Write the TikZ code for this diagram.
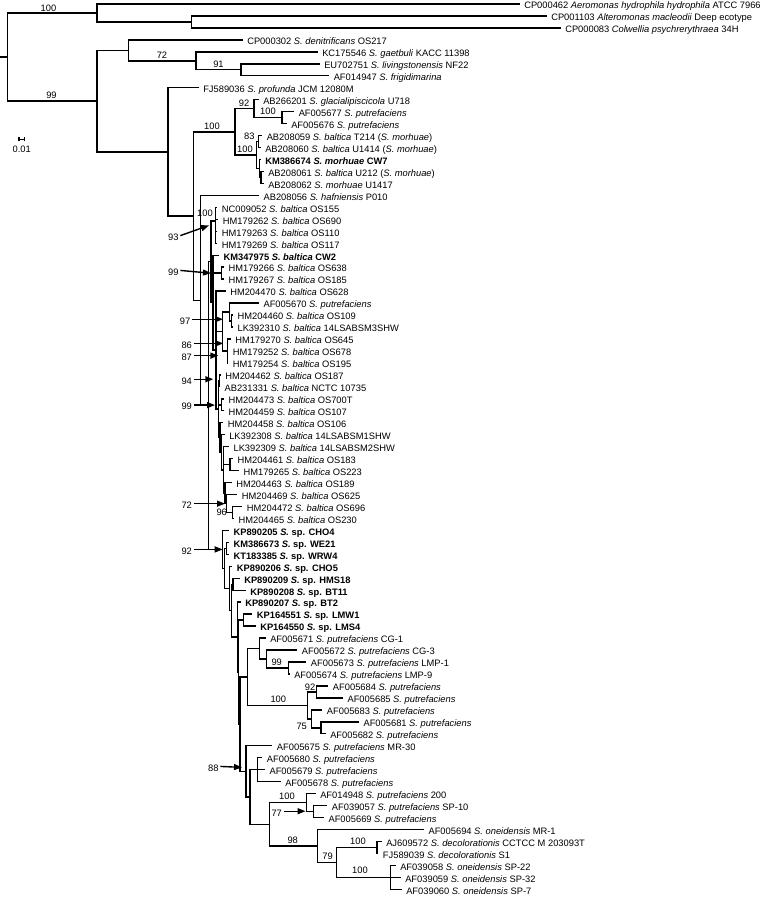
\documentclass[tikz,border=0pt]{standalone}
\usepackage{fontspec}
\setmainfont{Liberation Sans}
\usetikzlibrary{arrows.meta}
\newcommand\tkids[2]{\foreach \c in {#2}{\draw[br] (#1) |- (\c);}}
\newcommand\tleaves[2]{\foreach \c in {#2}{\draw[br] (#1) |- (\c.west);}}
\begin{document}
\begin{tikzpicture}[x=0.75pt,y=-0.7465pt,
  br/.style={line width=1.05pt},
  lf/.style={anchor=west,inner xsep=3.3pt,inner ysep=0pt,text height=0.72em,text depth=0pt,font=\fontsize{7}{8}\selectfont},
  bs/.style={inner sep=0pt,text height=0.72em,text depth=0pt,font=\fontsize{7}{8}\selectfont},
  al/.style={inner xsep=1.2pt,inner ysep=0pt,text height=0.72em,text depth=0pt,font=\fontsize{7}{8}\selectfont},
  arr/.style={line width=1.05pt,-{Triangle[length=6pt,width=4.5pt]}},
]
\useasboundingbox (0,0) rectangle (760,901.2);
% leaves
\node[lf] (L0) at (519.6,4.0) {CP000462 \textit{Aeromonas hydrophila hydrophila} ATCC 7966};
\node[lf] (L1) at (546.6,16.0) {CP001103 \textit{Alteromonas macleodii} Deep ecotype};
\node[lf] (L2) at (560.6,28.0) {CP000083 \textit{Colwellia psychrerythraea} 34H};
\node[lf] (L3) at (242.6,40.1) {CP000302 \textit{S. denitrificans} OS217};
\node[lf] (L4) at (317.6,52.1) {KC175546 \textit{S. gaetbuli} KACC 11398};
\node[lf] (L5) at (319.6,64.1) {EU702751 \textit{S. livingstonensis} NF22};
\node[lf] (L6) at (329.1,76.1) {AF014947 \textit{S. frigidimarina}};
\node[lf] (L7) at (198.6,88.1) {FJ589036 \textit{S. profunda} JCM 12080M};
\node[lf] (L8) at (258.6,100.2) {AB266201 \textit{S. glacialipiscicola} U718};
\node[lf] (L9) at (294.1,112.2) {AF005677 \textit{S. putrefaciens}};
\node[lf] (L10) at (286.6,124.2) {AF005676 \textit{S. putrefaciens}};
\node[lf] (L11) at (262.1,136.2) {AB208059 \textit{S. baltica} T214 (\textit{S. morhuae})};
\node[lf] (L12) at (260.6,148.2) {AB208060 \textit{S. baltica} U1414 (\textit{S. morhuae})};
\node[lf] (L13) at (260.6,160.3) {\textbf{KM386674 \textit{S. morhuae} CW7}};
\node[lf] (L14) at (263.6,172.3) {AB208061 \textit{S. baltica} U212 (\textit{S. morhuae})};
\node[lf] (L15) at (263.6,184.3) {AB208062 \textit{S. morhuae} U1417};
\node[lf] (L16) at (258.9,196.3) {AB208056 \textit{S. hafniensis} P010};
\node[lf] (L17) at (217.3,208.3) {NC009052 \textit{S. baltica} OS155};
\node[lf] (L18) at (218.3,220.4) {HM179262 \textit{S. baltica} OS690};
\node[lf] (L19) at (217.3,232.4) {HM179263 \textit{S. baltica} OS110};
\node[lf] (L20) at (217.3,244.4) {HM179269 \textit{S. baltica} OS117};
\node[lf] (L21) at (218.9,256.4) {\textbf{KM347975 \textit{S. baltica} CW2}};
\node[lf] (L22) at (223.9,268.4) {HM179266 \textit{S. baltica} OS638};
\node[lf] (L23) at (223.9,280.5) {HM179267 \textit{S. baltica} OS185};
\node[lf] (L24) at (225.6,292.5) {HM204470 \textit{S. baltica} OS628};
\node[lf] (L25) at (258.9,304.5) {AF005670 \textit{S. putrefaciens}};
\node[lf] (L26) at (232.9,316.5) {HM204460 \textit{S. baltica} OS109};
\node[lf] (L27) at (232.9,328.5) {LK392310 \textit{S. baltica} 14LSABSM3SHW};
\node[lf] (L28) at (230.6,340.6) {HM179270 \textit{S. baltica} OS645};
\node[lf] (L29) at (228.3,352.6) {HM179252 \textit{S. baltica} OS678};
\node[lf] (L30) at (228.3,364.6) {HM179254 \textit{S. baltica} OS195};
\node[lf] (L31) at (220.6,376.6) {HM204462 \textit{S. baltica} OS187};
\node[lf] (L32) at (219.9,388.6) {AB231331 \textit{S. baltica} NCTC 10735};
\node[lf] (L33) at (223.9,400.7) {HM204473 \textit{S. baltica} OS700T};
\node[lf] (L34) at (223.9,412.7) {HM204459 \textit{S. baltica} OS107};
\node[lf] (L35) at (223.3,424.7) {HM204458 \textit{S. baltica} OS106};
\node[lf] (L36) at (224.6,436.7) {LK392308 \textit{S. baltica} 14LSABSM1SHW};
\node[lf] (L37) at (228.9,448.7) {LK392309 \textit{S. baltica} 14LSABSM2SHW};
\node[lf] (L38) at (232.9,460.8) {HM204461 \textit{S. baltica} OS183};
\node[lf] (L39) at (238.9,472.8) {HM179265 \textit{S. baltica} OS223};
\node[lf] (L40) at (231.6,484.8) {HM204463 \textit{S. baltica} OS189};
\node[lf] (L41) at (237.3,496.8) {HM204469 \textit{S. baltica} OS625};
\node[lf] (L42) at (242.3,508.8) {HM204472 \textit{S. baltica} OS696};
\node[lf] (L43) at (233.9,520.9) {HM204465 \textit{S. baltica} OS230};
\node[lf] (L44) at (228.9,532.9) {\textbf{KP890205 \textit{S.} sp. CHO4}};
\node[lf] (L45) at (228.9,544.9) {\textbf{KM386673 \textit{S.} sp. WE21}};
\node[lf] (L46) at (228.9,556.9) {\textbf{KT183385 \textit{S.} sp. WRW4}};
\node[lf] (L47) at (232.3,568.9) {\textbf{KP890206 \textit{S.} sp. CHO5}};
\node[lf] (L48) at (239.6,581.0) {\textbf{KP890209 \textit{S.} sp. HMS18}};
\node[lf] (L49) at (245.6,593.0) {\textbf{KP890208 \textit{S.} sp. BT11}};
\node[lf] (L50) at (240.6,605.0) {\textbf{KP890207 \textit{S.} sp. BT2}};
\node[lf] (L51) at (252.3,617.0) {\textbf{KP164551 \textit{S.} sp. LMW1}};
\node[lf] (L52) at (255.6,629.0) {\textbf{KP164550 \textit{S.} sp. LMS4}};
\node[lf] (L53) at (265.6,641.1) {AF005671 \textit{S. putrefaciens} CG-1};
\node[lf] (L54) at (297.3,653.1) {AF005672 \textit{S. putrefaciens} CG-3};
\node[lf] (L55) at (306.3,665.1) {AF005673 \textit{S. putrefaciens} LMP-1};
\node[lf] (L56) at (289.6,677.1) {AF005674 \textit{S. putrefaciens} LMP-9};
\node[lf] (L57) at (328.3,689.1) {AF005684 \textit{S. putrefaciens}};
\node[lf] (L58) at (342.9,701.2) {AF005685 \textit{S. putrefaciens}};
\node[lf] (L59) at (322.3,713.2) {AF005683 \textit{S. putrefaciens}};
\node[lf] (L60) at (358.9,725.2) {AF005681 \textit{S. putrefaciens}};
\node[lf] (L61) at (325.6,737.2) {AF005682 \textit{S. putrefaciens}};
\node[lf] (L62) at (272.3,749.2) {AF005675 \textit{S. putrefaciens} MR-30};
\node[lf] (L63) at (262.3,761.3) {AF005680 \textit{S. putrefaciens}};
\node[lf] (L64) at (264.9,773.3) {AF005679 \textit{S. putrefaciens}};
\node[lf] (L65) at (280.6,785.3) {AF005678 \textit{S. putrefaciens}};
\node[lf] (L66) at (315.6,797.3) {AF014948 \textit{S. putrefaciens} 200};
\node[lf] (L67) at (327.3,809.3) {AF039057 \textit{S. putrefaciens} SP-10};
\node[lf] (L68) at (323.9,821.4) {AF005669 \textit{S. putrefaciens}};
\node[lf] (L69) at (423.9,833.4) {AF005694 \textit{S. oneidensis} MR-1};
\node[lf] (L70) at (381.6,845.4) {AJ609572 \textit{S. decolorationis} CCTCC M 203093T};
\node[lf] (L71) at (378.3,857.4) {FJ589039 \textit{S. decolorationis} S1};
\node[lf] (L72) at (395.6,869.4) {AF039058 \textit{S. oneidensis} SP-22};
\node[lf] (L73) at (400.6,881.5) {AF039059 \textit{S. oneidensis} SP-32};
\node[lf] (L74) at (401.6,893.5) {AF039060 \textit{S. oneidensis} SP-7};
% internal nodes
\coordinate (r0) at (0,57.3);
\coordinate (root) at (7.3,57.3);
\coordinate (O1) at (97,13.0);
\coordinate (O2) at (191.5,22.0);
\coordinate (S) at (97,101.6);
\coordinate (G1) at (128.5,50.6);
\coordinate (G2) at (196,61.1);
\coordinate (G3) at (241,70.1);
\coordinate (A) at (168,152.65);
\coordinate (B) at (193.3,217.2);
\coordinate (C) at (235,132.5);
\coordinate (C1) at (254,109.2);
\coordinate (C1b) at (282,118.2);
\coordinate (C2) at (256.7,155.75);
\coordinate (D1) at (258.5,142.2);
\coordinate (D2) at (259.5,169.3);
\coordinate (D3) at (261,178.3);
\coordinate (H) at (200.7,301.9);
\coordinate (I) at (208.3,407.5);
\coordinate (K1) at (211,263);
\coordinate (N100) at (215.7,222);
\coordinate (K2) at (213,304.1);
\coordinate (K22) at (221.7,274.45);
\coordinate (K3) at (216,351.8);
\coordinate (K4) at (222.5,333.05);
\coordinate (N97a) at (229.5,313.5);
\coordinate (N97b) at (231.5,322.5);
\coordinate (N86) at (227.3,352.6);
\coordinate (K5) at (218.3,411.05);
\coordinate (N94) at (219.3,382.6);
\coordinate (N99b) at (221.7,406.7);
\coordinate (K6) at (220,439.5);
\coordinate (K7) at (221.7,454.35);
\coordinate (K8) at (223.5,472);
\coordinate (N61) at (230,466.8);
\coordinate (K9) at (225,495.3);
\coordinate (N72) at (226.5,505.8);
\coordinate (N96) at (232.3,514.85);
\coordinate (Y7) at (222.7,552.0);
\coordinate (Y6) at (224.5,571.1);
\coordinate (K3b) at (226.7,550.9);
\coordinate (Y5) at (229.3,591.25);
\coordinate (Y4) at (231.7,613.6);
\coordinate (K2b) at (233,587.0);
\coordinate (Y3) at (237.3,640.15);
\coordinate (Y2) at (238.5,675.3);
\coordinate (KL) at (243.3,623.0);
\coordinate (Y1) at (240,727.55);
\coordinate (R) at (247.3,680.15);
\coordinate (P1) at (259.3,651.6);
\coordinate (P2) at (266.7,662.1);
\coordinate (P3) at (288.3,671.1);
\coordinate (Q) at (307.7,708.7);
\coordinate (Q1) at (316.7,695.15);
\coordinate (Q2) at (311.7,722.2);
\coordinate (Q3) at (321,731.2);
\coordinate (X) at (246,774.95);
\coordinate (X2) at (250,800.7);
\coordinate (T) at (257.3,773.3);
\coordinate (U) at (269.3,828.1);
\coordinate (U1) at (306.7,806.3);
\coordinate (U1b) at (313.3,815.35);
\coordinate (U2) at (317.3,849.9);
\coordinate (V) at (336.7,866.45);
\coordinate (V1) at (377,851.4);
\coordinate (V2) at (390.7,881.5);
% branches
\draw[br] (r0) -- (root);
\tkids{root}{O1,S}
\tleaves{O1}{L0} \tkids{O1}{O2}
\tleaves{O2}{L1,L2}
\tkids{S}{G1,A}
\tleaves{G1}{L3} \tkids{G1}{G2}
\tleaves{G2}{L4} \tkids{G2}{G3}
\tleaves{G3}{L5,L6}
\tleaves{A}{L7} \tkids{A}{B}
\tkids{B}{C,H}
\tkids{C}{C1,C2}
\tleaves{C1}{L8} \tkids{C1}{C1b}
\tleaves{C1b}{L9,L10}
\tkids{C2}{D1,D2}
\tleaves{D1}{L11,L12}
\tleaves{D2}{L13} \tkids{D2}{D3}
\tleaves{D3}{L14,L15}
\tleaves{H}{L16} \tkids{H}{I}
\tkids{I}{K1,Y7}
\tkids{K1}{N100,K2}
\tleaves{N100}{L17,L18,L19,L20}
\tleaves{K2}{L21} \tkids{K2}{K22,K3}
\tleaves{K22}{L22,L23}
\tleaves{K3}{L24} \tkids{K3}{K4,K5}
\tkids{K4}{N97a,N86}
\tleaves{N97a}{L25} \tkids{N97a}{N97b}
\tleaves{N97b}{L26,L27}
\tleaves{N86}{L28,L29,L30}
\tkids{K5}{N94,N99b,K6}
\tleaves{N94}{L31,L32}
\tleaves{N99b}{L33,L34}
\tleaves{K6}{L35} \tkids{K6}{K7}
\tleaves{K7}{L36} \tkids{K7}{K8}
\tleaves{K8}{L37} \tkids{K8}{N61,K9}
\tleaves{N61}{L38,L39}
\tleaves{K9}{L40} \tkids{K9}{N72}
\tleaves{N72}{L41} \tkids{N72}{N96}
\tleaves{N96}{L42,L43}
\tleaves{Y7}{L44} \tkids{Y7}{Y6}
\tkids{Y6}{K3b,Y5}
\tleaves{K3b}{L45,L46}
\tleaves{Y5}{L47} \tkids{Y5}{Y4}
\tkids{Y4}{K2b,Y3}
\tleaves{K2b}{L48,L49}
\tleaves{Y3}{L50} \tkids{Y3}{Y2}
\tkids{Y2}{KL,Y1}
\tleaves{KL}{L51,L52}
\tkids{Y1}{R,X}
\tkids{R}{P1,Q}
\tleaves{P1}{L53} \tkids{P1}{P2}
\tleaves{P2}{L54} \tkids{P2}{P3}
\tleaves{P3}{L55,L56}
\tkids{Q}{Q1,Q2}
\tleaves{Q1}{L57,L58}
\tleaves{Q2}{L59} \tkids{Q2}{Q3}
\tleaves{Q3}{L60,L61}
\tleaves{X}{L62} \tkids{X}{X2}
\tkids{X2}{T,U}
\tleaves{T}{L63,L64,L65}
\tkids{U}{U1,U2}
\tleaves{U1}{L66} \tkids{U1}{U1b}
\tleaves{U1b}{L67,L68}
\tleaves{U2}{L69} \tkids{U2}{V}
\tkids{V}{V1,V2}
\tleaves{V1}{L70,L71}
\tleaves{V2}{L72,L73,L74}
% bootstrap values
\node[bs] (b1) at (48.5,6.5) {100};
\node[bs] (b2) at (51.5,94.1) {99};
\node[bs] (b3) at (162,53.6) {72};
\node[bs] (b4) at (218.5,62.6) {91};
\node[bs] (b5) at (212,125) {100};
\node[bs] (b6) at (244,101.7) {92};
\node[bs] (b7) at (268,110.7) {100};
\node[bs] (b8) at (245,148.3) {100};
\node[bs] (b9) at (249.3,135) {83};
\node[bs] (b10) at (205,212.3) {100};
\node[bs] (b11) at (221.7,513.3) {96};
\node[bs] (b12) at (276.7,663.6) {99};
\node[bs] (b13) at (278.3,701.2) {100};
\node[bs] (b14) at (310,688.5) {92};
\node[bs] (b15) at (301.7,728.3) {75};
\node[bs] (b16) at (287,798.8) {100};
\node[bs] (b17) at (292.7,842.4) {98};
\node[bs] (b18) at (327.5,859) {79};
\node[bs] (b19) at (358,843.9) {100};
\node[bs] (b20) at (360,873) {100};
% arrowed bootstrap values
\node[al] (a93) at (173.3,236.7) {93};
\node[al] (a99a) at (173.3,271.7) {99};
\node[al] (a97) at (185,320.7) {97};
\node[al] (a86) at (186.7,345) {86};
\node[al] (a87) at (186.7,357.3) {87};
\node[al] (a94) at (186.7,381) {94};
\node[al] (a99b) at (186.7,407) {99};
\node[al] (a72) at (186.7,506) {72};
\node[al] (a92) at (186.7,552) {92};
\node[al] (a88) at (213.3,770) {88};
\node[al] (a77) at (276.7,815) {77};
\coordinate (t93) at (209,226.5);
\coordinate (t99a) at (211,274.5);
\coordinate (t97) at (223,320.7);
\coordinate (t86) at (223.3,345);
\coordinate (t87) at (218.3,357.3);
\coordinate (t94) at (213.3,381);
\coordinate (t99b) at (215,407);
\coordinate (t72) at (225,506);
\coordinate (t92) at (222.7,552);
\coordinate (t88) at (242,771);
\coordinate (t77) at (305.5,815);
\draw[arr] (a93.east) -- (t93);
\draw[arr] (a99a.east) -- (t99a);
\draw[arr] (a97.east) -- (t97);
\draw[arr] (a86.east) -- (t86);
\draw[arr] (a87.east) -- (t87);
\draw[arr] (a94.east) -- (t94);
\draw[arr] (a99b.east) -- (t99b);
\draw[arr] (a72.east) -- (t72);
\draw[arr] (a92.east) -- (t92);
\draw[arr] (a88.east) -- (t88);
\draw[arr] (a77.east) -- (t77);
% scale bar
\coordinate (sbL) at (18.3,140);
\coordinate (sbR) at (25,140);
\draw[line width=1.05pt,{Bar[width=3pt]}-{Bar[width=3pt]}] (sbL) -- (sbR);
\node[bs] (sbt) at (21.7,148.5) {0.01};
\end{tikzpicture}
\end{document}
